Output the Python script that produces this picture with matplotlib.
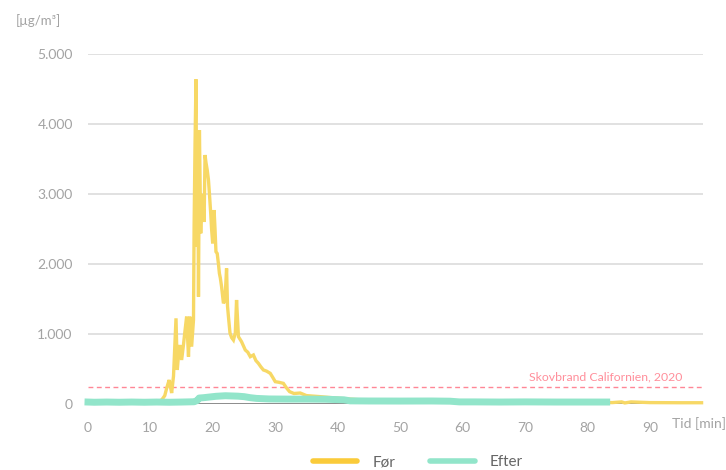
import matplotlib
matplotlib.use("Agg")
import matplotlib.pyplot as plt
from matplotlib.lines import Line2D

plt.rcParams['font.family'] = ['Lato', 'DejaVu Sans']

# ---- data ----
foer_t = [0, 2, 4, 6, 8, 10, 11, 11.8, 12.3, 12.6, 13.0, 13.2, 13.4, 13.7, 14.1, 14.3, 14.5, 14.7,
          15.0, 15.3, 15.5, 15.8, 16.1, 16.3, 16.6, 16.9, 17.0, 17.15, 17.3, 17.4, 17.5, 17.6, 17.7,
          17.85, 18.06, 18.2, 18.4, 18.6, 18.75, 18.9, 19.1, 19.3, 19.45, 19.66, 19.8, 19.98, 20.2,
          20.35, 20.5, 20.7, 20.9, 21.05, 21.2, 21.4, 21.7, 21.95, 22.2, 22.35, 22.5, 22.75, 23.0,
          23.3, 23.6, 23.8, 24.1, 24.6, 25.2, 25.6, 26.0, 26.5, 26.9, 27.3, 27.7, 28.1, 28.6, 29.2,
          29.6, 30.0, 30.6, 31.3, 31.8, 32.3, 33, 34, 35, 37.2, 40.4, 43.6, 50, 60, 70, 80, 84,
          85.5, 86, 87, 90, 95, 98.3]
foer_v = [15, 20, 15, 20, 15, 25, 30, 57, 120, 224, 343, 250, 157, 400, 1224, 486, 700, 843,
          629, 850, 1014, 1248, 676, 1248, 819, 1200, 2533, 3724, 4638, 3000, 2248, 3500, 1533,
          3914, 2438, 3000, 2914, 2600, 3557, 3450, 3343, 3200, 3010, 2724, 2500, 2295, 2771,
          2500, 2176, 2150, 2000, 1867, 1800, 1676, 1438, 1486, 1938, 1400, 1248, 1014, 950,
          914, 1014, 1486, 962, 890, 771, 740, 676, 700, 620, 581, 530, 486, 470, 438,
          380, 319, 310, 295, 230, 176, 150, 157, 120, 105, 80, 60, 45, 35, 30, 25, 20,
          30, 15, 30, 20, 18, 18]

efter_t = [0, 1, 3, 5, 7, 9, 11, 13, 15, 17, 17.5, 17.8, 18.5, 19.5, 20.5, 22, 23, 24, 25, 26,
           27, 29, 32, 35, 38, 41, 42, 45, 50, 55, 58, 59.5, 62, 66, 70, 75, 80, 83.1]
efter_v = [28, 25, 28, 25, 28, 25, 28, 25, 28, 32, 50, 85, 90, 100, 110, 118, 115, 112, 105, 90,
           80, 72, 70, 70, 68, 60, 45, 43, 42, 43, 40, 30, 30, 28, 30, 28, 28, 28]

y_ticks = [0, 1000, 2000, 3000, 4000, 5000]
y_tick_labels = ['0', '1.000', '2.000', '3.000', '4.000', '5.000']
x_ticks = [0, 10, 20, 30, 40, 50, 60, 70, 80, 90]
reference_level = 250
reference_label = 'Skovbrand Californien, 2020'
series_names = ['Før', 'Efter']

# ---- figure ----
W, H = 726, 470
fig = plt.figure(figsize=(W / 100, H / 100), dpi=100)
left, right, top, bottom = 88, 702.5, 54, 404
ax = fig.add_axes([left / W, 1 - bottom / H, (right - left) / W, (bottom - top) / H])

ax.set_xlim(0, 98.45)
ax.set_ylim(0, 5000)

grid_c = '#dcdcdc'
for yv in y_ticks[1:]:
    ax.axhline(yv, color=grid_c, lw=1.2, zorder=1)
ax.axhline(0, color='#8c8c8c', lw=1.4, zorder=2)

ax.axhline(reference_level, color='#ff8796', lw=1.0, ls=(0, (3.5, 2.5)), zorder=2)
ax.text(95.3, reference_level + 60, reference_label, color='#ff8f9b', fontsize=8.8,
        ha='right', va='bottom', zorder=5)

yellow_line = '#f7d865'
yellow_leg = '#facb3a'
green = '#92e5ca'
ax.plot(foer_t, foer_v, color=yellow_line, lw=2.4, zorder=3, clip_on=False,
        solid_joinstyle='miter')
ax.plot(efter_t, efter_v, color=green, lw=5, zorder=4, clip_on=False)

for s in ax.spines.values():
    s.set_visible(False)
ax.set_yticks(y_ticks)
ax.set_yticklabels(y_tick_labels)
ax.set_xticks(x_ticks)
ax.tick_params(axis='both', length=0, colors='#a3a3a3', labelsize=10)
ax.tick_params(axis='y', pad=11)
ax.tick_params(axis='x', pad=13)

fig.text(16 / W, 1 - 21 / H, '[µg/m³]', color='#a3a3a3', fontsize=9.5, ha='left', va='center')
fig.text(672 / W, 1 - 424 / H, 'Tid [min]', color='#a3a3a3', fontsize=10, ha='left', va='center')

handles = [Line2D([], [], color=yellow_leg, lw=4, solid_capstyle='round'),
           Line2D([], [], color=green, lw=4, solid_capstyle='round')]
fig.legend(handles, series_names, loc='center', bbox_to_anchor=(418 / W, 1 - 462.5 / H),
           ncol=2, frameon=False, fontsize=11, labelcolor='#666666',
           handlelength=2.9, handletextpad=1.0, columnspacing=2.3)

fig.savefig('out.png', dpi=100)
